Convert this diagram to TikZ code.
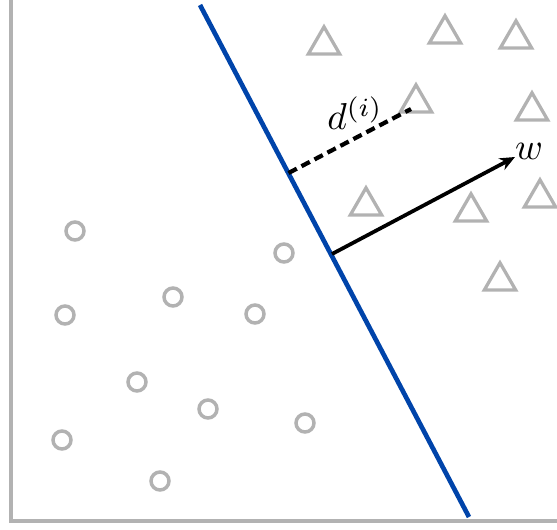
\documentclass[tikz,border=0pt]{standalone}
\usetikzlibrary{shapes.geometric,arrows.meta}
\definecolor{ptgray}{RGB}{178,178,178}
\definecolor{sepblue}{RGB}{0,68,170}
\begin{document}
\begin{tikzpicture}[x=0.03cm,y=-0.03cm,
  circpt/.style={circle,draw=ptgray,line width=3pt,minimum size=0.54cm,inner sep=0pt},
  tript/.style={regular polygon,regular polygon sides=3,draw=ptgray,line width=2.8pt,minimum size=1.09cm,inner sep=0pt},
  axisline/.style={draw=ptgray,line width=4pt},
  mathlabel/.style={scale=3.2,inner sep=0.5pt}]
\useasboundingbox (0,0) rectangle (557,529);
% axes
\coordinate (top) at (11,0);
\coordinate (origin) at (11,521);
\coordinate (right) at (557,521);
\draw[axisline] (top) -- (origin) -- (right);
% circles
\foreach \n/\x/\y in {c1/75/231,c2/284/253,c3/173/297,c4/65/315,c5/255/314,c6/137/382,c7/208/409,c8/305/423,c9/62/440,c10/160/481}
  \node[circpt] (\n) at (\x,\y) {};
% triangles
\foreach \n/\x/\y in {t1/324/45,t2/445/34,t3/516/39,t4/416/103,t5/532/111,t6/366/206,t7/471/212,t8/540/198,t9/500/281}
  \node[tript] (\n) at (\x,\y) {};
% separating line
\coordinate (ltop) at (200,5);
\coordinate (lbot) at (469,517);
\draw[sepblue,line width=4pt] (ltop) -- (lbot);
% distance (dashed)
\coordinate (foot1) at (288.5,173);
\coordinate (dend) at (411,109);
\draw[line width=3.6pt,dash pattern=on 8pt off 4.5pt] (foot1) -- (dend);
\node[mathlabel] (dlab) at (355,113) {$d^{(i)}$};
% normal vector
\coordinate (foot2) at (332,254);
\coordinate (wend) at (515,157);
\draw[line width=3.2pt,-{Stealth[length=13pt,width=11pt]}] (foot2) -- (wend);
\node[mathlabel] (wlab) at (529,151) {$w$};
\end{tikzpicture}
\end{document}
